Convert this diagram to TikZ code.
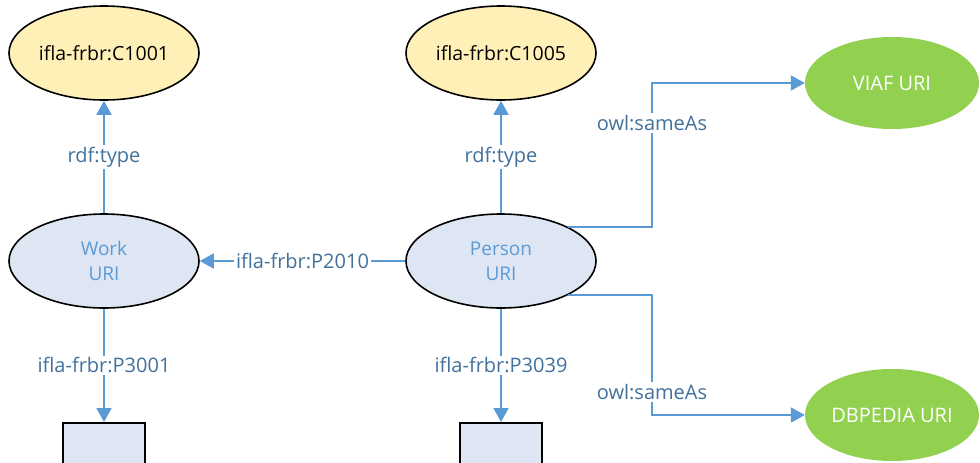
\documentclass[tikz,border=0pt]{standalone}
\usepackage{fontspec}
\setmainfont{Open Sans}
\usetikzlibrary{shapes.geometric,arrows.meta,calc}
\definecolor{linkblue}{HTML}{5B9BD5}
\definecolor{labelblue}{HTML}{41719C}
\definecolor{classfill}{HTML}{FFF0B8}
\definecolor{urifill}{HTML}{DEE6F3}
\definecolor{extgreen}{HTML}{92D050}
\tikzset{
  classnode/.style={ellipse, draw=black, line width=1.6pt, fill=classfill,
    minimum width=190pt, minimum height=94pt, inner sep=0pt,
    font=\fontsize{19.5}{22}\selectfont, text=black},
  urinode/.style={ellipse, draw=black, line width=1.6pt, fill=urifill,
    minimum width=190pt, minimum height=94pt, inner sep=0pt, align=center,
    font=\fontsize{19}{25}\selectfont, text=linkblue},
  extnode/.style={ellipse, fill=extgreen, minimum width=174pt, minimum height=92pt,
    inner sep=0pt, font=\fontsize{20}{22}\selectfont, text=white},
  litbox/.style={rectangle, draw=black, line width=1.6pt, fill=urifill,
    minimum width=82pt, minimum height=60pt, inner sep=0pt},
  link/.style={draw=linkblue, line width=1.8pt,
    -{Triangle[length=14pt,width=15pt]}},
  lbl/.style={fill=white, inner sep=2pt, text=labelblue,
    font=\fontsize{20}{22}\selectfont}
}
\begin{document}
\begin{tikzpicture}[x=1pt,y=-1pt]
  \useasboundingbox (0,0) rectangle (980,463);
  \clip (0,0) rectangle (980,463);
  \fill[white] (0,0) rectangle (980,463);

  % classes
  \node[classnode] (c1001) at (104,53) {ifla-frbr:C1001};
  \node[classnode] (c1005) at (501,53) {ifla-frbr:C1005};

  % resources
  \node[urinode] (work) at (104,261) {Work\\URI};
  \node[urinode] (person) at (501,261) {Person\\URI};

  % external identifiers
  \node[extnode] (viaf) at (892,83) {VIAF URI};
  \node[extnode] (dbpedia) at (892,415) {DBPEDIA URI};

  % literal values
  \node[litbox, anchor=north] (worklit) at (104,422) {};
  \node[litbox, anchor=north] (personlit) at (501,422) {};

  % turning line for the owl:sameAs links
  \coordinate (jog) at (652,261);

  % links
  \draw[link] (work) -- node[lbl] (l1) {rdf:type} (c1001);
  \draw[link] (person) -- node[lbl] (l2) {rdf:type} (c1005);
  \draw[link] (person) -- node[lbl] (l3) {ifla-frbr:P2010} (work);
  \draw[link] (work) -- node[lbl] (l4) {ifla-frbr:P3001} (worklit);
  \draw[link] (person) -- node[lbl] (l5) {ifla-frbr:P3039} (personlit);
  \draw[link] (person.27) -| (jog |- viaf.west) -- (viaf.west);
  \draw[link] (person.-27) -| (jog |- dbpedia.west) -- (dbpedia.west);
  \node[lbl] (l6) at (652,123) {owl:sameAs};
  \node[lbl] (l7) at (652,392) {owl:sameAs};
\end{tikzpicture}
\end{document}
